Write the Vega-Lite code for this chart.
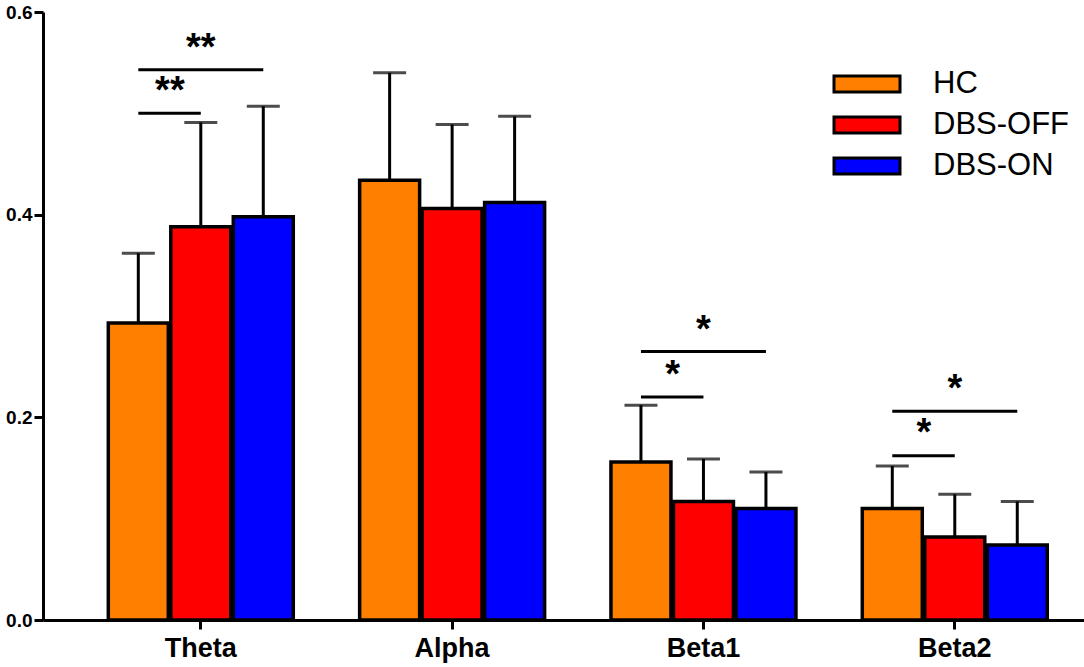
{
  "$schema": "https://vega.github.io/schema/vega-lite/v6.json",
  "width": 1041,
  "height": 608,
  "autosize": {"type": "none"},
  "padding": {"left": 43, "top": 12, "right": 0, "bottom": 47},
  "config": {
    "view": {"stroke": null},
    "font": "Liberation Sans"
  },
  "datasets": {
    "bars": [
      {"band": "Theta", "group": "HC", "mean": 0.293, "upper": 0.362},
      {"band": "Theta", "group": "DBS-OFF", "mean": 0.388, "upper": 0.491},
      {"band": "Theta", "group": "DBS-ON", "mean": 0.398, "upper": 0.507},
      {"band": "Alpha", "group": "HC", "mean": 0.434, "upper": 0.540},
      {"band": "Alpha", "group": "DBS-OFF", "mean": 0.406, "upper": 0.489},
      {"band": "Alpha", "group": "DBS-ON", "mean": 0.412, "upper": 0.497},
      {"band": "Beta1", "group": "HC", "mean": 0.156, "upper": 0.212},
      {"band": "Beta1", "group": "DBS-OFF", "mean": 0.117, "upper": 0.159},
      {"band": "Beta1", "group": "DBS-ON", "mean": 0.110, "upper": 0.146},
      {"band": "Beta2", "group": "HC", "mean": 0.110, "upper": 0.152},
      {"band": "Beta2", "group": "DBS-OFF", "mean": 0.082, "upper": 0.124},
      {"band": "Beta2", "group": "DBS-ON", "mean": 0.074, "upper": 0.117}
    ],
    "sig": [
      {"band": "Theta", "pair": "Theta-off", "group": "HC", "y": 0.500},
      {"band": "Theta", "pair": "Theta-off", "group": "DBS-OFF", "y": 0.500},
      {"band": "Theta", "pair": "Theta-on", "group": "HC", "y": 0.543},
      {"band": "Theta", "pair": "Theta-on", "group": "DBS-ON", "y": 0.543},
      {"band": "Beta1", "pair": "Beta1-off", "group": "HC", "y": 0.220},
      {"band": "Beta1", "pair": "Beta1-off", "group": "DBS-OFF", "y": 0.220},
      {"band": "Beta1", "pair": "Beta1-on", "group": "HC", "y": 0.265},
      {"band": "Beta1", "pair": "Beta1-on", "group": "DBS-ON", "y": 0.265},
      {"band": "Beta2", "pair": "Beta2-off", "group": "HC", "y": 0.162},
      {"band": "Beta2", "pair": "Beta2-off", "group": "DBS-OFF", "y": 0.162},
      {"band": "Beta2", "pair": "Beta2-on", "group": "HC", "y": 0.206},
      {"band": "Beta2", "pair": "Beta2-on", "group": "DBS-ON", "y": 0.206}
    ],
    "starsOff": [
      {"band": "Theta", "y": 0.529, "label": "**"},
      {"band": "Beta1", "y": 0.249, "label": "*"},
      {"band": "Beta2", "y": 0.191, "label": "*"}
    ],
    "starsOn": [
      {"band": "Theta", "y": 0.571, "label": "**"},
      {"band": "Beta1", "y": 0.293, "label": "*"},
      {"band": "Beta2", "y": 0.235, "label": "*"}
    ]
  },
  "encoding": {
    "x": {
      "field": "band",
      "type": "nominal",
      "sort": ["Theta", "Alpha", "Beta1", "Beta2"],
      "scale": {"domain": ["Theta", "Alpha", "Beta1", "Beta2"], "paddingInner": 0.264, "paddingOuter": 0.203, "align": 0.64},
      "axis": {
        "title": null,
        "labelAngle": 0,
        "labelFontSize": 27,
        "labelFontWeight": "bold",
        "labelColor": "black",
        "labelPadding": 6,
        "domainColor": "black",
        "domainWidth": 3,
        "ticks": true,
        "tickColor": "black",
        "tickWidth": 3,
        "tickSize": 9
      }
    },
    "y": {
      "type": "quantitative",
      "scale": {"domain": [0, 0.6], "nice": false},
      "axis": {
        "title": null,
        "values": [0, 0.2, 0.4, 0.6],
        "format": ".1f",
        "grid": false,
        "labelFontSize": 19,
        "labelFontWeight": "bold",
        "labelColor": "black",
        "labelPadding": 2,
        "domainColor": "black",
        "domainWidth": 3,
        "ticks": true,
        "tickColor": "black",
        "tickWidth": 3,
        "tickSize": 9
      }
    }
  },
  "layer": [
    {
      "data": {"name": "bars"},
      "mark": {"type": "bar", "stroke": "black", "strokeWidth": 3.5},
      "encoding": {
        "xOffset": {"field": "group", "type": "nominal", "scale": {"domain": ["HC", "DBS-OFF", "DBS-ON"], "paddingInner": 0.04, "paddingOuter": 0}},
        "y": {"field": "mean", "type": "quantitative"},
        "fill": {
          "field": "group",
          "type": "nominal",
          "scale": {"domain": ["HC", "DBS-OFF", "DBS-ON"], "range": ["#FF8000", "#FF0000", "#0000FF"]},
          "legend": {
            "title": null,
            "orient": "none",
            "legendX": 806,
            "legendY": 54,
            "padding": 0,
            "symbolType": "M-2,-0.48H2V0.48H-2Z",
            "symbolSize": 1089,
            "symbolStrokeColor": "black",
            "symbolStrokeWidth": 3,
            "labelFontSize": 31,
            "labelFont": "Liberation Sans",
            "labelColor": "black",
            "labelOffset": 48,
            "rowPadding": 8
          }
        }
      }
    },
    {
      "data": {"name": "bars"},
      "mark": {"type": "rule", "color": "black", "strokeWidth": 3},
      "encoding": {
        "xOffset": {"field": "group", "type": "nominal"},
        "y": {"field": "mean", "type": "quantitative"},
        "y2": {"field": "upper"}
      }
    },
    {
      "data": {"name": "bars"},
      "mark": {"type": "tick", "color": "black", "size": 33, "thickness": 3},
      "encoding": {
        "xOffset": {"field": "group", "type": "nominal"},
        "y": {"field": "upper", "type": "quantitative"}
      }
    },
    {
      "data": {"name": "sig"},
      "mark": {"type": "line", "color": "black", "strokeWidth": 3},
      "encoding": {
        "xOffset": {"field": "group", "type": "nominal"},
        "y": {"field": "y", "type": "quantitative"},
        "detail": {"field": "pair"}
      }
    },
    {
      "data": {"name": "starsOff"},
      "mark": {"type": "text", "fontSize": 38, "fontWeight": "bold", "baseline": "middle", "dy": 8, "color": "black"},
      "encoding": {
        "x": {"field": "band", "type": "nominal", "bandPosition": 0.333},
        "y": {"field": "y", "type": "quantitative"},
        "text": {"field": "label"}
      }
    },
    {
      "data": {"name": "starsOn"},
      "mark": {"type": "text", "fontSize": 38, "fontWeight": "bold", "baseline": "middle", "dy": 8, "color": "black"},
      "encoding": {
        "y": {"field": "y", "type": "quantitative"},
        "text": {"field": "label"}
      }
    }
  ]
}
